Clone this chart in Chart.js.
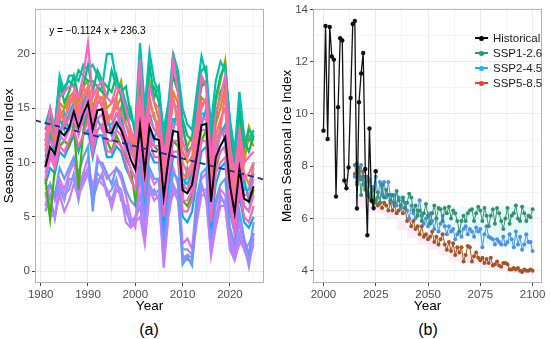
<!DOCTYPE html>
<html>
<head>
<meta charset="utf-8">
<script src="https://cdn.jsdelivr.net/npm/chart.js@4.4.0/dist/chart.umd.min.js"></script>
<style>
  body { margin: 0; width: 550px; height: 339px; background: #fff; position: relative; overflow: hidden;
         font-family: "Liberation Sans", Arial, sans-serif; }
  canvas { position: absolute; top: 0; }
  #chartA { left: 0; }
  #chartB { left: 278px; }
  .cap { position: absolute; top: 321px; width: 40px; margin-left: -20px; text-align: center;
         font-size: 16px; line-height: 18px; color: #000; }
  .key { position: absolute; left: 475px; height: 14px; width: 75px; }
  .key .ln { position: absolute; left: 0; top: 6px; width: 13px; height: 1.5px; }
  .key .pt { position: absolute; left: 4px; top: 4.5px; width: 5px; height: 5px; border-radius: 50%; }
  .key span { position: absolute; left: 18px; top: 0; font-size: 11.5px; line-height: 14px; color: #1a1a1a; white-space: nowrap; }
</style>
</head>
<body>
<canvas id="chartA" width="272" height="315"></canvas>
<canvas id="chartB" width="272" height="315"></canvas>
<div class="cap" style="left:149px">(a)</div>
<div class="cap" style="left:428px">(b)</div>

<div class="key" style="top:31px"><div class="ln" style="background:#000"></div><div class="pt" style="background:#000"></div><span>Historical</span></div>
<div class="key" style="top:46px"><div class="ln" style="background:#1B9E77"></div><div class="pt" style="background:#1B9E77"></div><span>SSP1-2.6</span></div>
<div class="key" style="top:61px"><div class="ln" style="background:#1FB0F0"></div><div class="pt" style="background:#1FB0F0"></div><span>SSP2-4.5</span></div>
<div class="key" style="top:76px"><div class="ln" style="background:#F03C28"></div><div class="pt" style="background:#F03C28"></div><span>SSP5-8.5</span></div>

<script>
// ---- panel (a): ensemble members 1981-2025 ----
var memberYears = Array.from({ length: 45 }, (_, i) => 1981 + i);

var memberTeal = [
  13.5, 15.0, 13.0, 18.0, 16.5, 18.0, 18.0, 17.5, 19.0, 18.5,
  19.0, 18.0, 17.0, 20.0, 20.0, 17.5, 17.0, 15.5, 14.0, 13.5,
  21.0, 15.0, 20.2, 17.5, 16.5, 13.0, 15.5, 20.0, 18.5, 15.0,
  13.5, 13.0, 16.5, 19.8, 18.0, 13.5, 17.5, 19.3, 18.5, 14.0,
  11.0, 16.5, 12.5, 12.0, 13.0,
];
var memberSea = [
  13.0, 14.5, 12.0, 16.5, 17.0, 17.5, 17.0, 18.5, 18.0, 17.5,
  17.5, 17.0, 16.5, 16.0, 18.5, 17.0, 16.5, 17.0, 14.5, 13.0,
  19.5, 14.0, 19.0, 16.0, 17.0, 12.0, 14.0, 19.0, 18.0, 14.0,
  12.5, 12.0, 15.5, 18.5, 18.8, 12.0, 16.0, 18.0, 19.0, 13.5,
  10.5, 15.0, 11.5, 13.0, 12.5,
];
var memberJade = [
  12.0, 13.5, 13.5, 17.5, 15.5, 16.5, 18.0, 16.0, 17.0, 19.0,
  16.5, 18.5, 17.5, 17.0, 16.5, 18.0, 16.0, 14.0, 15.0, 12.5,
  18.0, 13.0, 17.0, 17.0, 15.5, 11.5, 15.0, 18.0, 16.5, 13.5,
  11.0, 11.5, 14.5, 17.0, 17.5, 11.5, 14.0, 16.5, 17.5, 12.5,
  9.5, 14.5, 12.0, 11.0, 12.5,
];
var memberOlive = [
  12.5, 13.5, 11.5, 15.5, 15.0, 16.0, 16.5, 15.5, 17.0, 17.5,
  15.0, 16.5, 17.0, 15.0, 15.5, 16.0, 17.5, 14.5, 13.0, 12.0,
  17.0, 12.5, 17.5, 15.5, 14.0, 11.0, 13.5, 20.2, 17.0, 13.0,
  11.5, 12.5, 15.0, 17.5, 17.0, 11.0, 15.5, 17.5, 19.4, 12.5,
  10.0, 14.0, 11.0, 13.3, 12.0,
];
var memberOrange = [
  12.0, 13.0, 12.5, 14.0, 15.0, 15.5, 16.0, 14.5, 16.0, 17.0,
  14.5, 15.5, 16.0, 14.0, 14.5, 15.0, 16.0, 13.5, 12.5, 11.5,
  15.5, 11.0, 16.0, 14.0, 13.5, 9.5, 12.5, 16.5, 15.5, 11.0,
  10.0, 10.5, 13.5, 16.0, 15.5, 9.5, 13.5, 15.0, 17.0, 11.0,
  8.5, 12.5, 10.0, 12.5, 11.5,
];
var memberSalmon = [
  11.5, 14.0, 12.5, 15.0, 13.5, 16.0, 15.5, 14.0, 17.0, 16.0,
  13.5, 16.5, 15.0, 13.5, 14.5, 16.0, 13.0, 12.0, 12.5, 10.0,
  15.0, 10.5, 14.0, 14.5, 12.0, 8.0, 12.0, 16.0, 13.5, 9.0,
  8.5, 9.5, 12.0, 15.0, 16.0, 8.0, 12.0, 13.0, 16.5, 9.5,
  7.0, 12.0, 9.0, 8.0, 9.5,
];
var memberGreen = [
  8.5, 4.8, 9.5, 11.5, 12.0, 11.5, 13.5, 7.5, 13.0, 14.5,
  11.5, 13.0, 13.5, 12.0, 11.0, 12.5, 11.5, 10.5, 9.5, 6.5,
  12.5, 8.5, 12.0, 11.5, 11.0, 6.0, 9.5, 12.0, 11.5, 6.5,
  6.0, 7.0, 10.0, 12.0, 13.0, 6.0, 9.5, 11.0, 11.5, 7.0,
  5.0, 9.0, 6.0, 5.5, 7.5,
];
var memberPink = [
  12.0, 15.0, 13.0, 16.0, 16.5, 17.0, 17.0, 16.0, 18.0, 21.0,
  16.0, 17.0, 17.5, 16.0, 15.5, 17.0, 16.5, 15.0, 13.0, 12.0,
  19.5, 12.5, 17.0, 15.5, 15.0, 10.5, 13.5, 19.5, 16.5, 12.0,
  10.5, 11.5, 14.0, 18.0, 17.0, 10.0, 14.5, 16.0, 18.0, 11.5,
  9.0, 13.0, 10.0, 10.5, 11.0,
];
var memberRose = [
  11.0, 13.5, 12.0, 14.5, 14.0, 15.0, 16.5, 15.0, 16.0, 17.0,
  14.5, 16.0, 16.0, 14.5, 14.0, 15.5, 14.5, 13.5, 12.0, 11.0,
  16.0, 11.0, 15.5, 14.0, 13.5, 9.0, 12.5, 15.5, 15.0, 10.0,
  9.0, 10.0, 12.5, 15.5, 15.5, 8.5, 12.5, 14.0, 15.0, 10.0,
  7.5, 11.5, 8.5, 9.0, 10.0,
];
var memberBlush = [
  8.5, 10.5, 9.5, 11.5, 11.0, 12.0, 13.0, 11.5, 12.5, 14.0,
  11.0, 13.0, 13.5, 11.0, 11.0, 12.0, 11.5, 10.0, 8.5, 7.5,
  11.5, 7.5, 12.0, 10.5, 10.5, 5.0, 9.0, 11.0, 11.0, 5.5,
  5.5, 6.5, 9.0, 12.0, 12.0, 4.5, 9.0, 10.0, 10.5, 6.0,
  3.5, 7.5, 5.0, 4.5, 6.0,
];
var memberMagenta = [
  9.0, 11.0, 10.0, 12.5, 12.0, 13.0, 14.0, 12.5, 14.0, 15.0,
  12.0, 14.0, 14.5, 12.0, 12.0, 13.0, 12.5, 11.0, 9.5, 8.5,
  12.5, 8.5, 12.5, 11.5, 11.5, 6.0, 9.5, 12.0, 12.0, 6.5,
  6.5, 7.5, 10.0, 13.0, 13.0, 5.5, 10.0, 11.0, 11.5, 7.0,
  4.5, 8.5, 6.0, 5.5, 7.0,
];
var memberFuchsia = [
  10.0, 12.0, 11.5, 13.0, 13.5, 14.0, 15.0, 14.0, 15.0, 16.0,
  13.5, 15.5, 15.5, 13.0, 13.0, 14.5, 13.5, 12.5, 11.0, 10.0,
  14.0, 9.5, 14.0, 13.0, 12.5, 7.5, 11.0, 13.5, 13.5, 8.0,
  7.5, 8.5, 11.5, 14.0, 14.0, 7.0, 11.0, 12.5, 13.0, 8.5,
  6.0, 10.0, 7.0, 7.0, 8.5,
];
var memberCyan = [
  10.5, 12.5, 11.0, 14.0, 13.0, 14.5, 15.5, 14.0, 15.5, 16.5,
  14.0, 15.5, 15.5, 13.5, 13.5, 14.5, 14.0, 12.5, 11.5, 10.5,
  14.5, 10.0, 14.5, 13.0, 13.0, 8.0, 11.5, 14.0, 14.0, 8.5,
  8.0, 9.0, 11.5, 14.5, 14.5, 7.5, 11.5, 12.5, 13.5, 9.0,
  6.5, 10.5, 7.5, 7.5, 9.0,
];
var memberAqua = [
  9.5, 13.0, 10.0, 12.0, 14.5, 13.0, 14.0, 15.0, 13.5, 15.0,
  15.0, 14.0, 13.0, 14.5, 12.5, 13.0, 15.0, 11.0, 12.0, 11.0,
  13.0, 11.5, 13.0, 12.0, 14.0, 9.0, 10.5, 13.0, 15.0, 7.0,
  9.5, 8.0, 10.5, 13.5, 15.0, 9.0, 10.0, 13.5, 12.0, 8.0,
  7.5, 9.5, 8.5, 6.5, 10.0,
];
var memberSky = [
  8.0, 9.5, 9.0, 11.0, 10.5, 11.5, 12.5, 11.0, 12.5, 13.0,
  10.5, 12.5, 12.5, 10.5, 10.5, 11.5, 11.0, 9.5, 8.5, 7.5,
  11.0, 7.0, 11.0, 10.0, 10.0, 4.5, 8.0, 10.5, 10.5, 5.0,
  4.5, 5.5, 8.5, 11.0, 11.5, 4.0, 8.0, 9.5, 10.0, 5.5,
  3.5, 7.0, 4.5, 4.0, 5.0,
];
var memberBlue = [
  7.5, 8.0, 7.0, 9.5, 8.5, 9.5, 10.5, 9.0, 10.5, 11.5,
  5.5, 10.0, 10.0, 9.0, 8.0, 9.5, 9.0, 7.5, 6.5, 6.0,
  9.5, 5.5, 9.5, 8.5, 8.5, 3.0, 6.5, 9.0, 8.5, 0.6,
  1.3, 0.5, 6.5, 9.0, 9.5, 3.0, 6.5, 8.0, 8.5, 4.0,
  2.5, 5.5, 3.0, 1.5, 4.5,
];
var memberOrchid = [
  6.0, 8.0, 6.5, 8.5, 7.5, 9.0, 10.0, 8.0, 9.0, 10.5,
  7.0, 10.5, 9.5, 8.5, 9.0, 9.5, 8.5, 7.0, 5.0, 4.0,
  9.0, 4.0, 9.0, 8.0, 8.5, 2.5, 7.0, 9.5, 8.0, 2.5,
  3.0, 2.0, 7.0, 8.5, 9.0, 2.0, 6.0, 7.5, 7.0, 3.5,
  2.0, 4.5, 2.0, 2.5, 3.5,
];
var memberViolet = [
  7.0, 6.0, 5.0, 8.0, 7.0, 7.5, 9.0, 7.5, 8.5, 9.5,
  8.0, 9.0, 8.5, 7.5, 6.5, 8.0, 7.5, 5.5, 4.5, 5.0,
  7.0, 3.5, 8.0, 7.0, 7.5, 1.5, 5.5, 8.0, 7.0, 2.0,
  2.0, 1.5, 5.0, 7.5, 7.5, 2.5, 5.0, 6.5, 6.5, 3.0,
  1.5, 3.5, 2.5, 0.4, 3.0,
];
var memberLavender = [
  7.3, 5.0, 5.2, 7.0, 5.5, 6.5, 8.0, 7.0, 8.0, 9.0,
  7.5, 8.5, 8.0, 7.5, 5.8, 7.5, 7.0, 4.5, 4.0, 4.5,
  5.0, 2.5, 7.5, 6.5, 7.0, 0.3, 5.0, 7.5, 6.5, 1.5,
  1.0, 1.0, 4.5, 7.0, 7.0, 1.4, 4.0, 6.0, 6.0, 2.5,
  1.1, 2.5, 2.6, 1.0, 2.5,
];
var memberIris = [
  5.5, 7.0, 4.8, 7.5, 6.5, 8.5, 8.5, 6.5, 9.0, 9.0,
  6.5, 8.0, 9.0, 7.0, 7.5, 8.5, 6.5, 6.0, 4.2, 4.8,
  6.0, 3.0, 7.0, 7.5, 6.5, 1.0, 6.0, 7.0, 7.5, 1.0,
  1.5, 1.2, 5.5, 8.0, 6.5, 1.8, 4.5, 7.0, 6.0, 2.0,
  1.0, 3.0, 2.0, 0.8, 3.5,
];

// ensemble mean: 1981-1999, then the historical values 2000-2025 shared with panel (b)
var meanEarly = [9.6, 11.4, 10.8, 12.9, 12.5, 13.2, 14.7, 13.2, 14.5, 15.5,
  13.0, 14.8, 14.9, 12.8, 12.7, 13.7, 13.0, 11.8, 10.3];
var historicalYears = Array.from({ length: 26 }, (_, i) => 2000 + i);
var historicalIndex = [
  9.36, 13.37, 9.04, 13.33, 12.2, 12.08, 6.84, 10.26, 12.9, 12.81,
  7.45, 7.16, 7.95, 10.61, 13.44, 13.56, 6.38, 10.45, 11.55, 12.33,
  7.89, 5.36, 9.44, 6.68, 6.40, 7.81,
];
var meanIndex = meanEarly.concat(historicalIndex);

// fitted trend  y = -0.1124 x + 236.3
var trendSlope = -0.1124;
var trendIntercept = 236.3;
var trendLabel = "y = \u22120.1124 x + 236.3";

// ---- panel (b): scenario projections 2015-2100 ----
var sspYears = Array.from({ length: 86 }, (_, i) => 2015 + i);
var ssp126 = [
  8.05, 7.3, 7.8, 6.9, 7.6, 7.2, 6.9, 7.4, 6.8, 7.1,
  6.6, 7.0, 6.6, 7.3, 6.8, 7.1, 6.9, 6.7, 6.9, 6.6,
  7.05, 6.7, 6.5, 6.8, 6.4, 6.6, 6.95, 6.8, 6.3, 6.5,
  6.1, 6.3, 5.9, 6.2, 6.55, 6.1, 5.8, 6.2, 6.5, 6.0,
  6.4, 6.35, 5.9, 6.4, 6.2, 6.45, 6.0, 6.3, 6.2, 5.9,
  5.5, 5.9, 6.1, 5.9, 6.2, 6.3, 6.35, 5.9, 6.2, 6.45,
  6.3, 5.9, 6.4, 6.1, 5.7, 6.1, 6.35, 5.8, 6.4, 6.2,
  5.9, 5.6, 6.0, 6.4, 5.8, 6.1, 6.2, 6.5, 6.0, 5.9,
  6.45, 6.2, 5.9, 6.1, 6.05, 6.35,
];
var ssp245 = [
  7.6, 8.1, 7.5, 8.05, 7.3, 7.6, 7.0, 7.5, 6.9, 7.2,
  7.6, 6.8, 7.4, 6.9, 7.4, 6.8, 7.4, 6.9, 6.6, 6.9,
  6.5, 6.8, 6.4, 6.7, 6.6, 6.3, 6.0, 6.5, 6.2, 6.0,
  6.3, 6.7, 6.1, 5.8, 6.0, 5.7, 6.2, 5.9, 5.6, 6.0,
  5.5, 5.8, 6.1, 5.7, 5.4, 5.7, 5.5, 5.6, 5.2, 5.4,
  5.5, 5.3, 5.6, 5.7, 5.4, 5.6, 5.5, 5.3, 5.65, 5.5,
  5.6, 4.9, 5.4, 5.7, 5.3, 5.25, 5.2, 5.0, 5.2, 5.1,
  5.0, 5.3, 5.0, 5.1, 5.4, 5.2, 4.9, 5.5, 5.0, 5.3,
  4.8, 5.0, 5.4, 5.1, 5.1, 4.75,
];
var ssp585 = [
  7.7, 7.4, 7.95, 7.5, 7.8, 7.1, 7.6, 6.8, 7.2, 6.6,
  6.7, 6.5, 6.6, 6.4, 6.6, 6.5, 6.3, 6.6, 6.3, 6.5,
  6.2, 6.3, 6.4, 6.2, 6.4, 5.9, 6.0, 5.7, 5.9, 5.6,
  5.7, 5.4, 5.7, 5.3, 5.4, 5.2, 5.3, 5.5, 5.1, 5.3,
  5.0, 5.2, 5.4, 5.0, 4.8, 5.1, 4.75, 5.05, 4.6, 4.9,
  4.7, 4.9, 4.35, 4.6, 4.95, 4.9, 4.35, 4.55, 4.7, 4.5,
  4.4, 4.5, 4.3, 4.45, 4.3, 4.5, 4.2, 4.25, 4.35, 4.2,
  4.15, 4.3, 4.3, 4.25, 4.05, 4.05, 4.1, 4.05, 4.1, 4.0,
  3.95, 4.05, 4.0, 4.0, 4.05, 4.0,
];

// shaded bands behind the projections (5-year blocks)
var bandYears = [2015, 2020, 2025, 2030, 2035, 2040, 2045, 2050, 2055, 2060, 2065, 2070, 2075, 2080, 2085, 2090, 2095, 2100];
var cyanHigh = [8.2, 7.8, 7.5, 7.4, 7.05, 6.95, 6.75, 6.55, 6.5, 6.45, 6.35, 6.45, 6.45, 6.4, 6.4, 6.5, 6.5, 6.5];
var cyanLow = [7.2, 7.0, 6.8, 6.7, 6.4, 6.1, 6.0, 5.7, 5.5, 5.4, 5.3, 5.3, 5.1, 5.0, 5.0, 4.9, 4.8, 4.8];
var pinkHigh = [7.6, 6.9, 6.6, 6.55, 6.3, 5.95, 5.65, 5.4, 5.2, 5.0, 4.9, 4.65, 4.5, 4.45, 4.3, 4.15, 4.1, 4.1];
var pinkLow = [7.0, 6.4, 6.25, 6.2, 6.0, 5.55, 5.25, 5.0, 4.8, 4.6, 4.35, 4.3, 4.25, 4.1, 4.05, 3.95, 3.92, 3.92];

// ---- helpers ----
Chart.defaults.font.family = '"Liberation Sans", Arial, sans-serif';

function pts(xs, ys) {
  return ys.map((y, i) => ({ x: xs[i], y: y }));
}

function makeAxis(min, max, tickValues, majorStep, titleText, fitSize, isX) {
  var isMajor = (v) => Math.abs(v / majorStep - Math.round(v / majorStep)) < 1e-6;
  return {
    type: "linear",
    min: min,
    max: max,
    afterBuildTicks: (axis) => {
      axis.ticks = tickValues.map((v) => ({ value: v }));
    },
    afterFit: (axis) => {
      if (isX) axis.height = fitSize;
      else axis.width = fitSize;
    },
    ticks: {
      autoSkip: false,
      maxRotation: 0,
      padding: 2,
      color: "#4D4D4D",
      font: { size: 11.5 },
      callback: (v) => (isMajor(v) ? String(v) : ""),
    },
    grid: {
      color: (c) => (c.tick && isMajor(c.tick.value) ? "#EBEBEB" : "#F4F4F4"),
      lineWidth: 1,
      tickLength: 3,
      tickColor: (c) => (c.tick && isMajor(c.tick.value) ? "#444444" : "rgba(0,0,0,0)"),
    },
    border: { display: false },
    title: {
      display: true,
      text: titleText,
      color: "#000",
      font: { size: 13.5 },
      padding: { top: 1, bottom: 1 },
    },
  };
}

// grey frame round the plotting area
const framePlugin = {
  id: "frame",
  afterDatasetsDraw(chart) {
    const a = chart.chartArea;
    const ctx = chart.ctx;
    ctx.save();
    ctx.strokeStyle = "#B3B3B3";
    ctx.lineWidth = 1;
    ctx.strokeRect(a.left + 0.5, a.top + 0.5, a.width - 1, a.height - 1);
    ctx.restore();
  },
};

// equation text in panel (a)
const equationPlugin = {
  id: "equation",
  afterDatasetsDraw(chart) {
    const ctx = chart.ctx;
    ctx.save();
    ctx.font = '10px "Liberation Sans", Arial, sans-serif';
    ctx.fillStyle = "#000";
    ctx.textAlign = "center";
    ctx.textBaseline = "middle";
    ctx.fillText(trendLabel, chart.scales.x.getPixelForValue(1992), chart.scales.y.getPixelForValue(22.1));
    ctx.restore();
  },
};

function memberLine(values, color) {
  return {
    data: pts(memberYears, values),
    borderColor: color,
    borderWidth: 2.2,
    pointRadius: 0,
    tension: 0,
    fill: false,
  };
}

// ---- chart (a) ----
var xMinA = 1978.8, xMaxA = 2027.2;
const chartA = new Chart(document.getElementById("chartA").getContext("2d"), {
  type: "line",
  data: {
    datasets: [
      {
        data: [
          { x: xMinA, y: trendSlope * xMinA + trendIntercept },
          { x: xMaxA, y: trendSlope * xMaxA + trendIntercept },
        ],
        borderColor: "#1F2E9C",
        borderWidth: 1.8,
        borderDash: [6, 4],
        pointRadius: 0,
        fill: false,
      },
      {
        data: pts(memberYears, meanIndex),
        borderColor: "#000000",
        borderWidth: 2,
        pointRadius: 0,
        tension: 0,
        fill: false,
      },
      memberLine(memberPink, "#FF61C3"),
      memberLine(memberRose, "#FF6C91"),
      memberLine(memberFuchsia, "#FD61D1"),
      memberLine(memberMagenta, "#F564E3"),
      memberLine(memberBlush, "#FF64B0"),
      memberLine(memberTeal, "#00C0AF"),
      memberLine(memberSea, "#00BF7D"),
      memberLine(memberSalmon, "#F8766D"),
      memberLine(memberJade, "#00BE67"),
      memberLine(memberOlive, "#B79F00"),
      memberLine(memberOrange, "#E58700"),
      memberLine(memberGreen, "#39B600"),
      memberLine(memberCyan, "#00BCD8"),
      memberLine(memberAqua, "#00B8E7"),
      memberLine(memberSky, "#00A9FF"),
      memberLine(memberBlue, "#619CFF"),
      memberLine(memberLavender, "#C77CFF"),
      memberLine(memberOrchid, "#DB72FB"),
      memberLine(memberViolet, "#9590FF"),
      memberLine(memberIris, "#8F91FF"),
    ],
  },
  options: {
    responsive: false,
    maintainAspectRatio: false,
    animation: false,
    layout: { padding: { top: 5, right: 8, left: 0, bottom: 0 } },
    plugins: { legend: { display: false }, tooltip: { enabled: false } },
    scales: {
      x: makeAxis(xMinA, xMaxA, [1980, 1985, 1990, 1995, 2000, 2005, 2010, 2015, 2020, 2025], 10, "Year", 32, true),
      y: makeAxis(-1.1, 24.15, [0, 2.5, 5, 7.5, 10, 12.5, 15, 17.5, 20, 22.5], 5, "Seasonal Ice Index", 35, false),
    },
  },
  plugins: [framePlugin, equationPlugin],
});

// ---- chart (b) ----
function sspLine(values, color) {
  return {
    data: pts(sspYears, values),
    borderColor: color,
    backgroundColor: color,
    borderWidth: 1,
    pointRadius: 2,
    pointBorderWidth: 0,
    tension: 0,
    fill: false,
  };
}
function bandEdge(values, color, fillTarget) {
  return {
    data: pts(bandYears, values),
    borderWidth: 0,
    borderColor: "rgba(0,0,0,0)",
    backgroundColor: color,
    pointRadius: 0,
    stepped: "after",
    fill: fillTarget,
  };
}

const chartB = new Chart(document.getElementById("chartB").getContext("2d"), {
  type: "line",
  data: {
    datasets: [
      {
        data: pts(historicalYears, historicalIndex),
        borderColor: "#111111",
        backgroundColor: "#111111",
        borderWidth: 1.3,
        pointRadius: 2.2,
        pointBorderWidth: 0,
        tension: 0,
        fill: false,
      },
      sspLine(ssp126, "#33916A"),
      sspLine(ssp245, "#4A8FE8"),
      sspLine(ssp585, "#A8521F"),
      bandEdge(cyanHigh, "rgba(200,248,248,0.45)", "+1"),
      bandEdge(cyanLow, "rgba(0,0,0,0)", false),
      bandEdge(pinkHigh, "rgba(252,214,242,0.45)", "+1"),
      bandEdge(pinkLow, "rgba(0,0,0,0)", false),
    ],
  },
  options: {
    responsive: false,
    maintainAspectRatio: false,
    animation: false,
    layout: { padding: { top: 5, right: 8, left: 0, bottom: 0 } },
    plugins: { legend: { display: false }, tooltip: { enabled: false } },
    scales: {
      x: makeAxis(1995, 2104.5, [2000, 2012.5, 2025, 2037.5, 2050, 2062.5, 2075, 2087.5, 2100], 25, "Year", 32, true),
      y: makeAxis(3.53, 14.02, [4, 5, 6, 7, 8, 9, 10, 11, 12, 13, 14], 2, "Mean Seasonal Ice Index", 35, false),
    },
  },
  plugins: [framePlugin],
});
</script>
</body>
</html>
